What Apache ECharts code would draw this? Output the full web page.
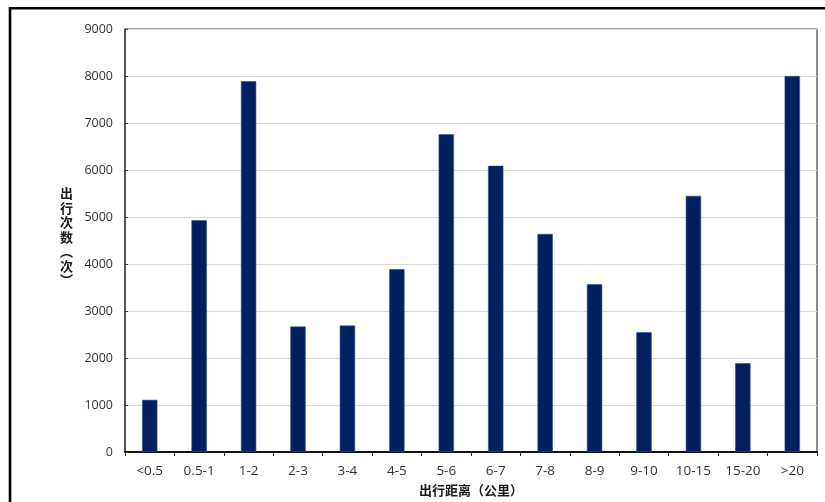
<!DOCTYPE html>
<html>
<head>
<meta charset="utf-8">
<script src="https://cdn.jsdelivr.net/npm/echarts@6/dist/echarts.min.js"></script>
<style>
  html, body { margin: 0; padding: 0; background: #fff; }
  #chart { width: 825px; height: 502px; }
</style>
</head>
<body>
<div id="chart"></div>
<script>
// Trip distance bands (km)
const categories = ['<0.5', '0.5-1', '1-2', '2-3', '3-4', '4-5', '5-6', '6-7', '7-8', '8-9', '9-10', '10-15', '15-20', '>20'];
// Number of trips in each band
const tripCounts = [1110, 4930, 7890, 2670, 2690, 3890, 6760, 6090, 4640, 3570, 2550, 5450, 1890, 8000];
// Count axis range
const yMin = 0;
const yMax = 9000;
const yStep = 1000;

const xTitle = '出行距离（公里）';
const yTitle = ['出', '行', '次', '数', '︵', '次', '︶'];

const font = '"Open Sans", "Noto Sans CJK SC", sans-serif';
const cjkFont = '"Noto Sans CJK SC", sans-serif';

const chart = echarts.init(document.getElementById('chart'), null, { renderer: 'canvas' });
chart.setOption({
  backgroundColor: '#ffffff',
  animation: false,
  grid: {
    left: 125, top: 29, right: 8, bottom: 50,
    outerBoundsMode: 'none',
    containLabel: false,
    show: true, borderColor: '#404040', borderWidth: 1.2, backgroundColor: 'transparent'
  },
  graphic: [
    {
      type: 'rect',
      shape: { x: 10, y: 8.2, width: 840, height: 520 },
      style: { fill: 'none', stroke: '#000', lineWidth: 2.6 },
      silent: true
    },
    {
      type: 'text',
      left: 60, top: 186,
      style: {
        text: yTitle.join('\n'),
        font: 'bold 13px ' + cjkFont,
        fill: '#1a1a1a',
        lineHeight: 14.5,
        align: 'center'
      }
    }
  ],
  xAxis: {
    type: 'category',
    data: categories,
    name: xTitle,
    nameLocation: 'middle',
    nameGap: 32,
    nameTextStyle: { fontFamily: cjkFont, fontWeight: 'bold', fontSize: 13, color: '#1a1a1a' },
    axisLine: { lineStyle: { color: '#111', width: 2 } },
    axisTick: { show: true, alignWithLabel: false, inside: false, length: 4, lineStyle: { color: '#333' } },
    axisLabel: { fontFamily: font, fontSize: 13.5, color: '#333', margin: 12, interval: 0 },
    splitLine: { show: false }
  },
  yAxis: {
    type: 'value',
    min: yMin, max: yMax, interval: yStep,
    axisLine: { show: true, lineStyle: { color: '#444', width: 1.5 } },
    axisTick: { show: true, inside: true, length: 3, lineStyle: { color: '#444' } },
    axisLabel: { fontFamily: font, fontSize: 12.5, color: '#333', margin: 12, formatter: v => String(v) },
    splitLine: { show: true, lineStyle: { color: '#d9d9d9', width: 1.2 } }
  },
  series: [{
    type: 'bar',
    data: tripCounts,
    barWidth: '31%',
    itemStyle: { color: '#002060', borderColor: '#34507f', borderWidth: 0.6 }
  }]
});
</script>
</body>
</html>
